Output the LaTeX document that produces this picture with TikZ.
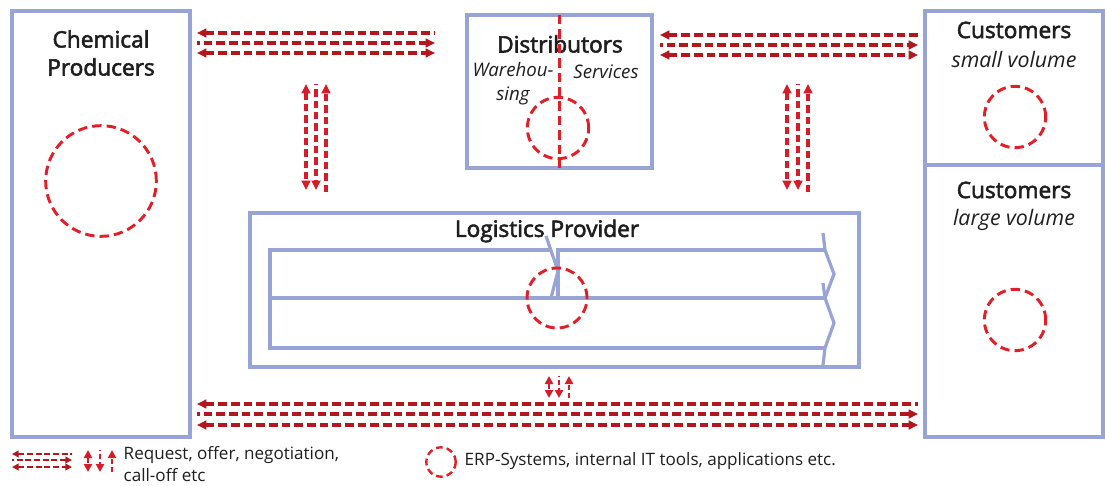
\documentclass[tikz,border=0pt]{standalone}
\usepackage{fontspec}
\setmainfont{Open Sans}
\newfontfamily\headfont[FakeBold=2.5]{Open Sans}
\usetikzlibrary{arrows.meta,fit,calc}
\definecolor{boxblue}{RGB}{152,164,214}
\definecolor{erpred}{RGB}{226,30,40}
\definecolor{linkred}{RGB}{180,22,30}
\definecolor{vlinkred}{RGB}{214,28,40}
\definecolor{ink}{RGB}{30,30,30}
\begin{document}
\begin{tikzpicture}[x=0.75pt,y=-0.75pt,
  >={Triangle[length=7pt,width=6.5pt]},
  box/.style={draw=boxblue,line width=2.3pt,inner sep=0pt,outer sep=0pt},
  erp/.style={circle,draw=erpred,line width=2.2pt,dash pattern=on 7pt off 3.8pt,inner sep=0pt,minimum size=#1},
  title/.style={font=\headfont\fontsize{17}{21}\selectfont,align=center,text=ink},
  sub/.style={font=\itshape\fontsize{14}{18}\selectfont,align=center,text=ink},
  bigsub/.style={sub,font=\itshape\fontsize{16}{20}\selectfont},
  hlink/.style={draw=linkred,line width=2.4pt,dash pattern=on 6.5pt off 3pt},
  vlink/.style={draw=vlinkred,line width=2.4pt,dash pattern=on 5.5pt off 3pt},
  dotstart/.style={dash phase=4.5pt},
  band/.style={draw=boxblue,line width=2.4pt,line join=miter},
  legend/.style={font=\fontsize{12.8}{16.5}\selectfont,align=left,text=ink},
  keylink/.style={draw=linkred,line width=1.8pt,dash pattern=on 4.5pt off 2pt,>={Triangle[length=5pt,width=5pt]}},
  keyvlink/.style={draw=vlinkred,line width=2pt,dash pattern=on 4pt off 2pt,>={Triangle[length=6pt,width=6pt]}}
]
\useasboundingbox (0,0) rectangle (1105,485);

% partner boxes
\node[box,fit={(12,11) (190,437)}] (prod) {};
\node[box,fit={(467,15) (652,168)}] (dist) {};
\node[box,fit={(925,11) (1103,165)}] (csmall) {};
\node[box,fit={(925,165) (1103,437)}] (clarge) {};
\node[box,fit={(250,213) (859,367)}] (lp) {};

% titles
\node[title] (prodT) at (101,53) {Chemical\\Producers};
\node[title] (distT) at (560,44) {Distributors};
\node[sub] (wh) at (513,84) {Warehou-\\sing};
\node[sub] (sv) at (606,72) {Services};
\node[title] (csT) at (1014,30) {Customers};
\node[bigsub] (csS) at (1014,60) {small volume};
\node[title] (clT) at (1014,190) {Customers};
\node[bigsub] (clS) at (1014,220) {large volume};
\node[title] (lpT) at (547,231) {Logistics Provider};

% process bands of the logistics provider
\draw[band] (551,250) -- (270,250) -- (270,348) -- (825,348);
\draw[band] (270,298) -- (825,298);
\draw[band] (558,298) -- (558,250) -- (825,250);
\draw[band] (546,236) -- (558,271) -- (551,298);
\draw[band] (823,233) -- (825,250) -- (834,274) -- (825,298);
\draw[band] (823,283) -- (825,298) -- (834,323) -- (825,348) -- (823,365);

% split of the distributors box
\draw[draw=erpred,line width=2.2pt,dash pattern=on 7pt off 3.8pt] (dist.north) -- ([yshift=-3pt]dist.south);

% IT systems
\node[erp=83pt] (eProd) at (101,181) {};
\node[erp=46pt] (eDist) at (558,128) {};
\node[erp=46pt] (eCs) at (1015,117) {};
\node[erp=46pt] (eCl) at (1015,320) {};
\node[erp=45pt] (eLp) at (557,298) {};

% rows of the information flows
\coordinate (ra1) at (0,33);  \coordinate (ra2) at (0,43);  \coordinate (ra3) at (0,53);
\coordinate (rb1) at (0,35);  \coordinate (rb2) at (0,45);  \coordinate (rb3) at (0,55);
\coordinate (rc1) at (0,404); \coordinate (rc2) at (0,414); \coordinate (rc3) at (0,425);

% producers <-> distributors
\draw[hlink,<-] ($(prod.east|-ra1)+(7,0)$) -- ($(dist.west|-ra1)+(-32,0)$);
\draw[hlink,->,dotstart] ($(prod.east|-ra2)+(7,0)$) -- ($(dist.west|-ra2)+(-32,0)$);
\draw[hlink,<->] ($(prod.east|-ra3)+(7,0)$) -- ($(dist.west|-ra3)+(-32,0)$);

% distributors <-> customers
\draw[hlink,<-] ($(dist.east|-rb1)+(8,0)$) -- ($(csmall.west|-rb1)+(-7,0)$);
\draw[hlink,->,dotstart] ($(dist.east|-rb2)+(8,0)$) -- ($(csmall.west|-rb2)+(-7,0)$);
\draw[hlink,<->] ($(dist.east|-rb3)+(8,0)$) -- ($(csmall.west|-rb3)+(-7,0)$);

% producers <-> customers
\draw[hlink,<-] ($(prod.east|-rc1)+(7,0)$) -- ($(clarge.west|-rc1)+(-7,0)$);
\draw[hlink,->,dotstart] ($(prod.east|-rc2)+(7,0)$) -- ($(clarge.west|-rc2)+(-7,0)$);
\draw[hlink,<->] ($(prod.east|-rc3)+(7,0)$) -- ($(clarge.west|-rc3)+(-7,0)$);

% flows to and from the logistics provider
\coordinate (vaT) at (306,84); \coordinate (vaB) at (306,190);
\draw[vlink,<->] (vaT) -- (vaB);
\draw[vlink,->,dotstart] ($(vaT)+(10,0)$) -- ($(vaB)+(10,0)$);
\draw[vlink,->] ($(vaB)+(20,2)$) -- ($(vaT)+(20,0)$);

\coordinate (vbT) at (787,84); \coordinate (vbB) at (787,190);
\draw[vlink,<->] (vbT) -- (vbB);
\draw[vlink,->,dotstart] ($(vbT)+(11,0)$) -- ($(vbB)+(11,0)$);
\draw[vlink,->] ($(vbB)+(21,2)$) -- ($(vbT)+(21,0)$);

\coordinate (vcT) at (549,376); \coordinate (vcB) at (549,398);
\draw[keyvlink,<->] (vcT) -- (vcB);
\draw[keyvlink,->,dash phase=3pt] ($(vcT)+(10,0)$) -- ($(vcB)+(10,0)$);
\draw[keyvlink,->] ($(vcB)+(20,0)$) -- ($(vcT)+(20,0)$);

% legend
\coordinate (k1) at (12,454); \coordinate (k2) at (12,460); \coordinate (k3) at (12,467);
\draw[keylink,<-] (k1) -- ++(60,0);
\draw[keylink,->,dash phase=3pt] (k2) -- ++(60,0);
\draw[keylink,<->] (k3) -- ++(60,0);
\coordinate (kv) at (88,450);
\draw[keyvlink,<->] (kv) -- ++(0,22);
\draw[keyvlink,->,dash phase=3pt] ($(kv)+(12,0)$) -- ++(0,22);
\draw[keyvlink,->] ($(kv)+(24,22)$) -- ++(0,-22);
\node[legend,anchor=west] (kText) at (119,464) {Request, offer, negotiation,\\call-off etc};

\node[erp=22pt,line width=1.8pt,dash pattern=on 5pt off 3pt] (kErp) at (441,462) {};
\node[legend,anchor=west] (kErpText) at (460,461) {ERP-Systems, internal IT tools, applications etc.};
\end{tikzpicture}
\end{document}
